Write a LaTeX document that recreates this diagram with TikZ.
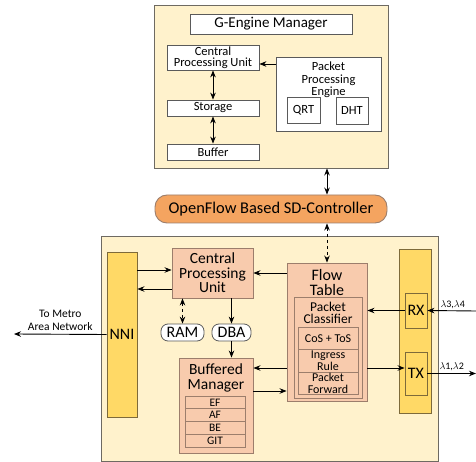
\documentclass[tikz,border=0pt]{standalone}
\usepackage{fontspec}
\setmainfont{Carlito}
\usetikzlibrary{positioning, arrows.meta}

\definecolor{cream}{HTML}{FFF2CC}
\definecolor{peach}{HTML}{F8CBAD}
\definecolor{gold}{HTML}{FFD966}
\definecolor{ctrlorange}{HTML}{F4A460}
\definecolor{panelgray}{HTML}{6E6A62}
\definecolor{boxgray}{HTML}{5A5A5A}
\definecolor{peachline}{HTML}{9C7E6C}
\definecolor{goldline}{HTML}{7D6A3A}

\newcommand{\fgem}{\fontsize{15}{15}\selectfont}
\newcommand{\fsmall}{\fontsize{12.5}{11.5}\selectfont}
\newcommand{\fmetro}{\fontsize{11.5}{13}\selectfont}
\newcommand{\flam}{\fontsize{10}{10}\selectfont}
\newcommand{\fppe}{\fontsize{12.5}{12.5}\selectfont}
\newcommand{\fmid}{\fontsize{15.5}{14.5}\selectfont}
\newcommand{\fbig}{\fontsize{16}{16}\selectfont}
\newcommand{\frow}{\fontsize{11.5}{10}\selectfont}
\newcommand{\frowb}{\fontsize{12}{11.3}\selectfont}

\tikzstyle{panel} = [rectangle, draw=panelgray, fill=cream, line width=0.9pt]
\tikzstyle{whitebox} = [rectangle, draw=boxgray, fill=white, line width=0.8pt, inner sep=1pt, align=center]
\tikzstyle{peachbox} = [rectangle, draw=peachline, fill=peach, line width=0.9pt, inner sep=1pt, align=center]
\tikzstyle{goldbox} = [rectangle, draw=goldline, fill=gold, line width=0.9pt, inner sep=1pt]
\tikzstyle{pill} = [rectangle, rounded corners=7pt, draw=boxgray, fill=white, line width=0.8pt, inner sep=1pt, font=\fontsize{16}{16}\selectfont]
\tikzstyle{ctrlbox} = [rectangle, rounded corners=12pt, draw=peachline, fill=ctrlorange, line width=0.9pt, font=\fontsize{16.4}{16}\selectfont]
\tikzstyle{rowcell} = [rectangle, draw=peachline, fill=peach, line width=0.8pt, inner sep=0pt, align=center]
\tikzstyle{arrow} = [line width=0.9pt, -{Stealth[length=7pt, width=5.5pt]}]
\tikzstyle{dblarrow} = [line width=0.9pt, {Stealth[length=7pt, width=5.5pt]}-{Stealth[length=7pt, width=5.5pt]}]

\begin{document}
\begin{tikzpicture}[x=1pt, y=-1pt]
\useasboundingbox (0,0) rectangle (476,462);

%G-Engine
\node (gtop) [panel, minimum width=234, minimum height=163] at (271,86.5) {};
\node (gem) [whitebox, minimum width=162, minimum height=20, font=\fgem] at (271,24) {G-Engine Manager};
\node (cpuA) [whitebox, minimum width=92, minimum height=25, font=\fsmall] at (213,57.5) {Central\\Processing Unit};
\node (ppe) [whitebox, minimum width=105, minimum height=74,
  label={[anchor=north, align=center, font=\fppe, yshift=-2pt]north:Packet\\Processing\\Engine}] at (328.5,94) {};
\node (qrt) [whitebox, minimum width=33, minimum height=26, font=\fppe] at (303.5,110) {QRT};
\node (dht) [whitebox, minimum width=32, minimum height=27, font=\fppe] at (352,110.5) {DHT};
\node (stor) [whitebox, minimum width=92, minimum height=16, font=\fsmall] at (213,108) {Storage};
\node (buf) [whitebox, minimum width=92, minimum height=16, font=\fsmall] at (213,152) {Buffer};

%Controller
\node (ctrl) [ctrlbox, minimum width=232, minimum height=28] at (271,209) {OpenFlow Based SD-Controller};

%Switch
\node (gbot) [panel, minimum width=337, minimum height=225] at (269.5,348.5) {};
\node (nni) [goldbox, minimum width=30, minimum height=165, font=\fbig] at (122,334.5) {NNI};
\node (cpuB) [peachbox, minimum width=81, minimum height=50, font=\fmid] at (212.5,273) {Central\\Processing\\Unit};
\node (ram) [pill, minimum width=43, minimum height=17] at (182.5,332.5) {RAM};
\node (dba) [pill, minimum width=39, minimum height=17] at (231.5,332.5) {DBA};
\node (bm) [peachbox, minimum width=74, minimum height=95,
  label={[anchor=north, align=center, font=\fmid, yshift=-3pt]north:Buffered\\Manager}] at (216,405.5) {};
\foreach \name/\txt [count=\i from 0] in {ef/EF, af/AF, be/BE, git/GIT}
  \node (\name) [rowcell, minimum width=60, minimum height=12.75, font=\frow] at (215, 402.4+\i*12.75) {\txt};
\node (ft) [peachbox, minimum width=80, minimum height=138,
  label={[anchor=north, align=center, font=\fontsize{16}{15}\selectfont, yshift=-3pt]north:Flow\\Table}] at (327,332) {};
\node (pc) [peachbox, minimum width=68, minimum height=101,
  label={[anchor=north, align=center, font=\fontsize{13.5}{12.5}\selectfont, yshift=-2pt]north:Packet\\Classifier}] at (328,347.5) {};
\node (cos) [rowcell, minimum width=60, minimum height=22.5, font=\frowb] at (328,338.25) {CoS + ToS};
\node (ing) [rowcell, minimum width=60, minimum height=22.5, font=\frowb] at (328,360.75) {Ingress\\Rule};
\node (fwd) [rowcell, minimum width=60, minimum height=22.5, font=\frowb] at (328,383.25) {Packet\\Forward};
\node (trx) [goldbox, minimum width=32, minimum height=164] at (415,331) {};
\node (rx) [goldbox, minimum width=22, minimum height=35, font=\fbig] at (416,310.5) {RX};
\node (tx) [goldbox, minimum width=22, minimum height=43, font=\fbig] at (416,373.5) {TX};
\coordinate (metro) at (14,334);
\coordinate (inR) at (476,311);
\coordinate (outR) at (476,373.5);

%Arrows
\draw [arrow] (ppe.west |- 0,64) -- (cpuA.east |- 0,64);
\draw [dblarrow] (cpuA) -- (stor);
\draw [dblarrow] (stor) -- (buf);
\draw [dblarrow] (ctrl.north -| ft) -- (gtop.south -| ft);
\draw [dblarrow, dashed] (ctrl.south -| ft) -- (ft.north);
\draw [arrow] (nni.east |- 0,270) -- (cpuB.west |- 0,270);
\draw [arrow] (cpuB.west |- 0,289) -- (nni.east |- 0,289);
\draw [dblarrow, dashed] (cpuB.south -| ram) -- (ram.north);
\draw [arrow] (cpuB.south -| dba) -- (dba.north);
\draw [arrow] (dba.south) -- (bm.north -| dba);
\draw [arrow] (ft.west |- cpuB) -- (cpuB.east);
\draw [arrow] (ft.west |- 0,368) -- (bm.east |- 0,368);
\draw [arrow] (bm.east |- 0,391) -- (ft.west |- 0,391);
\draw [arrow] (ft.east |- 0,368) -- (tx.west |- 0,368);
\draw [arrow] (rx.west) -- (ft.east |- rx);
\draw [arrow] (nni.west) -- (metro) node[midway, above, align=center, font=\fmetro] {To Metro\\Area Network};
\draw [arrow] (inR) -- (rx.east) node[midway, above, inner sep=2pt, xshift=1pt] {\flam$\lambda$3,$\lambda$4};
\draw [arrow] (tx.east) -- (outR) node[midway, above, inner sep=2pt] {\flam$\lambda$1,$\lambda$2};

\end{tikzpicture}
\end{document}
